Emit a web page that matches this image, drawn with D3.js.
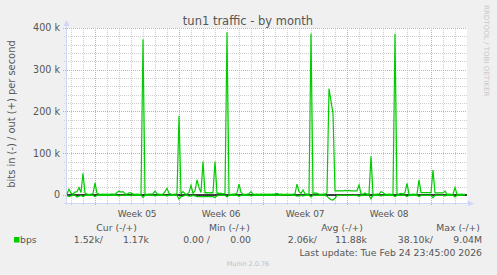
<!DOCTYPE html>
<html>
<head>
<meta charset="utf-8">
<script src="https://cdn.jsdelivr.net/npm/d3@7"></script>
<style>
  html, body { margin: 0; padding: 0; background: #F0F0F0; }
  svg { display: block; font-family: "DejaVu Sans", sans-serif; }
</style>
</head>
<body>
<script>
var w = 497;
var h = 275;

// 4-hour samples, kbit/s
var outKbps = [
    3, 14, 4, 2, 7, 8, 18, 6, 52, 5, 2, 1, 2, 3, 29, 4, 2, 1.5, 2, 1.5,
    2, 1.5, 2, 2, 1.5, 6, 9, 7, 8, 3, 2, 5, 5, 2, 1.5, 2, 1.5, 2, 373, 2,
    1.5, 2, 2, 3, 9, 3, 2, 1.5, 2, 8, 16, 4, 2, 1.5, 2, 3, 190, 3, 8, 3,
    2, 6, 23, 4, 10, 36, 18, 6, 80, 5, 5.5, 5, 5.5, 5, 80, 4, 4.5, 4, 3, 4,
    390, 2, 1.5, 2, 2, 5, 26, 6, 2, 1.5, 2, 3, 8, 2, 1.5, 2, 1.5, 2, 1.5, 2,
    1.5, 2, 1.5, 2, 2, 4, 1.5, 2, 1.5, 1.5, 2, 1.5, 1.5, 2, 3, 26, 8, 4, 12, 3,
    2, 2, 387, 3, 5, 4, 2, 1.5, 2, 2, 5, 255, 225, 195, 10, 10, 10, 10, 10, 11,
    10, 11, 10, 10, 10, 10, 24, 3, 2, 5, 2, 2, 93, 2, 1.5, 2, 2, 8, 6, 2,
    1.5, 2, 1.5, 2, 386, 2, 2, 4, 2, 6, 28, 2, 1.5, 2, 1.5, 2, 36, 5.5, 5.5, 5.5,
    5.5, 5.5, 5, 60, 5, 5, 5, 5, 5, 9, 1.5, 2, 1.5, 2, 18, 2, 1.5, 2, 1.5, 1.5
];
var inKbps = [
    1, 4, 2, 1, 1, 5, 3, 1, 4, 1, 0.5, 1, 1, 1, 4, 1, 0.5, 1, 1, 0.5,
    1, 0.5, 1, 1, 0.5, 1, 2, 1, 1, 0.5, 1, 1, 1.5, 0.5, 1, 0.5, 1, 1, 6, 1,
    0.5, 1, 1, 0.5, 2, 1, 0.5, 1, 1, 1, 2, 1, 0.5, 1, 1, 1, 10, 4, 3, 1,
    1, 3, 2, 1, 2, 4, 4, 4, 4, 4, 4, 4, 4, 4, 6, 2, 1, 1, 1, 1,
    5, 1, 0.5, 1, 1, 1, 3, 1, 0.5, 1, 1, 0.5, 2, 1, 0.5, 1, 0.5, 1, 0.5, 1,
    0.5, 1, 0.5, 1, 1, 1, 0.5, 1, 0.5, 0.5, 1, 0.5, 0.5, 1, 1, 3, 2, 1, 2, 1,
    1, 1, 5, 1, 1, 1, 0.5, 1, 0.5, 1, 3, 8, 11, 12, 8, 1, 1, 1, 1, 1,
    1, 1, 1, 1, 1, 1, 3, 1, 1, 1, 1, 1, 9, 1, 0.5, 1, 1, 2, 1, 1,
    0.5, 1, 0.5, 1, 4, 1, 1, 1, 1, 1, 4, 1, 0.5, 1, 0.5, 1, 4, 1, 1, 1,
    1, 1, 1, 7, 1, 1, 1, 1, 1, 2, 0.5, 1, 0.5, 1, 5, 1, 0.5, 1, 0.5, 0.5
];

var endTime = new Date(Date.UTC(2026, 1, 24, 23, 45));
var stepHours = 4;
var spanHours = 800;
var startTime = new Date(endTime - spanHours * 3600e3);

var yTicks = [0, 100000, 200000, 300000, 400000];
var yTickLabels = ["0", "100 k", "200 k", "300 k", "400 k"];
var yMin = -19200;
var yMax = 400000;

var legendHeaders = ["Cur (-/+)", "Min (-/+)", "Avg (-/+)", "Max (-/+)"];
var legendValues = ["1.52k/", "1.17k", "0.00 /", "0.00", "2.06k/", "11.88k", "38.10k/", "9.04M"];
var seriesName = "bps";

var green = "#00CC00";
var fontColor = "#555";

var x = d3.scaleTime().domain([startTime, endTime]).range([67, 467]);
var y = d3.scaleLinear().domain([yMin, yMax]).range([203, 28]);

var svg = d3.select("body")
    .append("svg")
    .attr("width", w)
    .attr("height", h);

svg.append("rect").attr("width", w).attr("height", h).attr("fill", "#F0F0F0");
svg.append("rect")
    .attr("x", x.range()[0]).attr("y", y.range()[1])
    .attr("width", x.range()[1] - x.range()[0])
    .attr("height", y.range()[0] - y.range()[1])
    .attr("fill", "#FFFFFF");

// grid
var grid = svg.append("g").attr("shape-rendering", "crispEdges");
var minorY = d3.range(0, yMax + 1, 20000).filter(function (v) { return v % 100000 !== 0; });

grid.selectAll(".hmin").data(minorY).enter().append("line")
    .attr("x1", 64).attr("x2", 467)
    .attr("y1", function (d) { return Math.round(y(d)) + 0.5; })
    .attr("y2", function (d) { return Math.round(y(d)) + 0.5; })
    .attr("stroke", "#CFCFCF").attr("stroke-dasharray", "1,1");

grid.selectAll(".vmin").data(d3.utcDay.range(startTime, endTime)).enter().append("line")
    .attr("x1", function (d) { return Math.round(x(d)) + 0.5; })
    .attr("x2", function (d) { return Math.round(x(d)) + 0.5; })
    .attr("y1", 28).attr("y2", 205)
    .attr("stroke", "#CFCFCF").attr("stroke-dasharray", "1,1");

grid.selectAll(".hmaj").data(yTicks).enter().append("line")
    .attr("x1", 63).attr("x2", 467)
    .attr("y1", function (d) { return Math.round(y(d)) + 0.5; })
    .attr("y2", function (d) { return Math.round(y(d)) + 0.5; })
    .attr("stroke", "#E8A0A0").attr("stroke-dasharray", "1,1");

var weeks = d3.utcSunday.range(startTime, endTime);
grid.selectAll(".vmaj").data(weeks).enter().append("line")
    .attr("x1", function (d) { return Math.round(x(d)) + 0.5; })
    .attr("x2", function (d) { return Math.round(x(d)) + 0.5; })
    .attr("y1", 28).attr("y2", 206)
    .attr("stroke", "#E8A0A0").attr("stroke-dasharray", "1,1");

// axis lines and arrows
var axisColor = "#CFD6F8";
svg.append("line").attr("x1", 66.5).attr("x2", 66.5).attr("y1", 205).attr("y2", 24)
    .attr("stroke", axisColor);
svg.append("path").attr("d", "M63.5,26 L69.5,26 L66.5,20 Z").attr("fill", axisColor);
svg.append("line").attr("x1", 64).attr("x2", 470).attr("y1", 203.5).attr("y2", 203.5)
    .attr("stroke", axisColor);
svg.append("path").attr("d", "M468,200.5 L468,206.5 L474,203.5 Z").attr("fill", axisColor);

// series
var times = d3.range(outKbps.length).map(function (i) {
    return new Date(+startTime + i * stepHours * 3600e3);
});

var line = d3.line()
    .x(function (d) { return x(d[0]); })
    .y(function (d) { return y(d[1]); });

svg.append("line")
    .attr("x1", 67).attr("x2", 467)
    .attr("y1", y(0)).attr("y2", y(0))
    .attr("stroke", "#000").attr("stroke-width", 1.5);

svg.append("path")
    .datum(times.map(function (t, i) { return [t, -inKbps[i] * 1000]; }))
    .attr("d", line).attr("fill", "none")
    .attr("stroke", green).attr("stroke-width", 1.2);

svg.append("path")
    .datum(times.map(function (t, i) { return [t, outKbps[i] * 1000]; }))
    .attr("d", line).attr("fill", "none")
    .attr("stroke", green).attr("stroke-width", 1.2);

// texts
svg.append("text")
    .attr("x", 248).attr("y", 25)
    .attr("text-anchor", "middle")
    .attr("font-size", 11.5).attr("fill", fontColor)
    .text("tun1 traffic - by month");

svg.append("text")
    .attr("transform", "translate(15,114) rotate(-90)")
    .attr("text-anchor", "middle")
    .attr("font-size", 9.9).attr("fill", fontColor)
    .text("bits in (-) / out (+) per second");

svg.append("text")
    .attr("transform", "translate(484,5) rotate(90)")
    .attr("text-anchor", "start")
    .attr("font-size", 7.1).attr("fill", "#C8C8C8")
    .text("RRDTOOL / TOBI OETIKER");

svg.selectAll(".ytick").data(yTicks).enter().append("text")
    .attr("x", 60).attr("y", function (d) { return y(d); })
    .attr("dy", "0.36em")
    .attr("text-anchor", "end")
    .attr("font-size", 9.6).attr("fill", fontColor)
    .text(function (d, i) { return yTickLabels[i]; });

var weekFmt = d3.utcFormat("%V");
var labelWeeks = weeks.concat([d3.utcSunday.floor(startTime)]).map(function (d) {
    return new Date(+d + 3.5 * 86400e3);
}).filter(function (d) { return d > startTime && d < endTime; });

svg.selectAll(".xtick").data(labelWeeks).enter().append("text")
    .attr("x", function (d) { return x(d); }).attr("y", 217)
    .attr("text-anchor", "middle")
    .attr("font-size", 9).attr("fill", fontColor)
    .text(function (d) { return "Week " + weekFmt(d); });

// legend
var headerX = [137, 250, 363, 480];
svg.selectAll(".lhead").data(legendHeaders).enter().append("text")
    .attr("x", function (d, i) { return headerX[i]; }).attr("y", 231)
    .attr("text-anchor", "end")
    .attr("font-size", 9.3).attr("fill", fontColor)
    .text(function (d) { return d; });

svg.append("rect").attr("x", 14).attr("y", 237).attr("width", 5.5).attr("height", 5.5)
    .attr("fill", green);
svg.append("text").attr("x", 20).attr("y", 243)
    .attr("font-size", 9.3).attr("fill", fontColor).text(seriesName);

var valueX = [103, 149, 210, 251, 317, 367, 433, 482];
svg.selectAll(".lval").data(legendValues).enter().append("text")
    .attr("x", function (d, i) { return valueX[i]; }).attr("y", 243)
    .attr("text-anchor", "end")
    .attr("font-size", 9.3).attr("fill", fontColor)
    .attr("xml:space", "preserve")
    .style("white-space", "pre")
    .text(function (d) { return d; });

svg.append("text")
    .attr("x", 482).attr("y", 256)
    .attr("text-anchor", "end")
    .attr("font-size", 9.3).attr("fill", fontColor)
    .text("Last update: Tue Feb 24 23:45:00 2026");

svg.append("text")
    .attr("x", 248).attr("y", 266)
    .attr("text-anchor", "middle")
    .attr("font-size", 6.5).attr("fill", "#C0C0C0")
    .text("Munin 2.0.76");
</script>
</body>
</html>
